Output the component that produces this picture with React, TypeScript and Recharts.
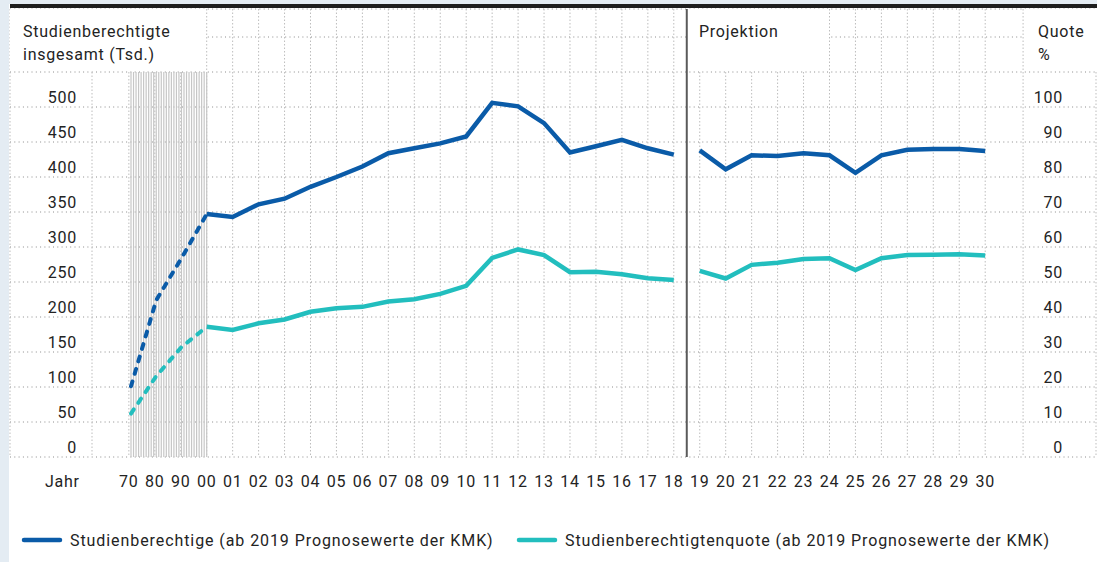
import React from 'react';
import { LineChart, Line, XAxis, YAxis, CartesianGrid, ReferenceLine } from 'recharts';

const FONT = 'Roboto, "Noto Sans", sans-serif';
const BLUE = '#0a5ba8';
const TEAL = '#22bebe';
const INK = '#232323';

// Historical (compressed 1970-2000 region, dashed)
const histYears = [1970, 1980, 1990, 2000];
const histStudienberechtigte = [101, 224, 284, 347];
const histQuote = [12.4, 23.1, 31.4, 37.2];

// Observed 2000-2018
const obsYears = [2000, 2001, 2002, 2003, 2004, 2005, 2006, 2007, 2008, 2009, 2010, 2011, 2012, 2013, 2014, 2015, 2016, 2017, 2018];
const obsStudienberechtigte = [347, 343, 361, 369, 386, 400, 415, 434, 441, 448, 458, 506, 501, 477, 435, 444, 453, 441, 432];
const obsQuote = [37.2, 36.3, 38.2, 39.3, 41.5, 42.5, 42.9, 44.4, 45.1, 46.6, 48.9, 56.9, 59.3, 57.7, 52.8, 52.9, 52.2, 51.1, 50.6];

// Projection 2019-2030 (KMK)
const projYears = [2019, 2020, 2021, 2022, 2023, 2024, 2025, 2026, 2027, 2028, 2029, 2030];
const projStudienberechtigte = [438, 411, 431, 430, 434, 431, 406, 431, 439, 440, 440, 437];
const projQuote = [53.2, 51.0, 54.9, 55.5, 56.6, 56.8, 53.4, 56.8, 57.7, 57.8, 57.9, 57.6];

// Ticks
const leftTicks = [0, 50, 100, 150, 200, 250, 300, 350, 400, 450, 500, 550, 600];
const leftTickLabels = ['0', '50', '100', '150', '200', '250', '300', '350', '400', '450', '500', '', ''];
const rightTicks = [0, 10, 20, 30, 40, 50, 60, 70, 80, 90, 100];
const rightTickLabels = ['0', '10', '20', '30', '40', '50', '60', '70', '80', '90', '100'];
const xTickLabels = ['70', '80', '90', '00', '01', '02', '03', '04', '05', '06', '07', '08', '09', '10', '11', '12', '13', '14', '15', '16', '17', '18', '19', '20', '21', '22', '23', '24', '25', '26', '27', '28', '29', '30'];
const extraGridX = [-1.42, 34.46];

// axis transform: 1970-2000 compressed into 3 slots, then one slot per year
const HATCH_START = 0.083;
const HATCH_END = 3;
const pos = (year: number) =>
  year < 2000 ? HATCH_START + ((year - 1970) / 30) * (HATCH_END - HATCH_START) : 3 + (year - 2000);

const hatchYears: number[] = [];
for (let y = 1970; y <= 2000; y++) hatchYears.push(y);

type Row = { x: number; [k: string]: number | null };
const rowMap = new Map<number, Row>();
const keys = ['studHist', 'quoteHist', 'stud', 'quote', 'studProj', 'quoteProj'];
function put(year: number, key: string, value: number) {
  const x = pos(year);
  let r = rowMap.get(x);
  if (!r) {
    r = { x };
    keys.forEach((k) => (r![k] = null));
    rowMap.set(x, r);
  }
  r[key] = value;
}
histYears.forEach((y, i) => { put(y, 'studHist', histStudienberechtigte[i]); put(y, 'quoteHist', histQuote[i]); });
obsYears.forEach((y, i) => { put(y, 'stud', obsStudienberechtigte[i]); put(y, 'quote', obsQuote[i]); });
projYears.forEach((y, i) => { put(y, 'studProj', projStudienberechtigte[i]); put(y, 'quoteProj', projQuote[i]); });
const data = Array.from(rowMap.values()).sort((a, b) => a.x - b.x);

const xTicks = [extraGridX[0], ...xTickLabels.map((_, i) => i), extraGridX[1]];

const textProps = { fontFamily: FONT, fontSize: 16, letterSpacing: 0.75, fill: INK };
const legendTextProps = { ...textProps, letterSpacing: 0.92 };

const LeftTick = (props: any) => {
  const { y, payload } = props;
  const i = leftTicks.indexOf(payload.value);
  const label = i >= 0 ? leftTickLabels[i] : '';
  return <text x={77} y={y - 4} textAnchor="end" {...textProps}>{label}</text>;
};
const RightTick = (props: any) => {
  const { y, payload } = props;
  const i = rightTicks.indexOf(payload.value);
  const label = i >= 0 ? rightTickLabels[i] : '';
  return <text x={1063} y={y - 4} textAnchor="end" {...textProps}>{label}</text>;
};
const XTick = (props: any) => {
  const { x, y, payload } = props;
  const v = payload.value;
  const idx = Math.round(v);
  const label = Math.abs(v - idx) < 1e-6 && idx >= 0 && idx < xTickLabels.length ? xTickLabels[idx] : '';
  return <text x={x} y={y + 30} textAnchor="middle" {...textProps}>{label}</text>;
};

export default function App() {
  return (
    <div style={{ position: 'absolute', left: 0, top: 0, width: 1097, height: 562, background: '#e4ecf3', overflow: 'hidden' }}>
      <div style={{ position: 'absolute', left: 9, top: 4, width: 1088, height: 558, background: '#fff' }} />
      <div style={{ position: 'absolute', left: 10, top: 4, width: 1087, height: 4, background: '#1e1e1e' }} />
      <div style={{ position: 'absolute', left: 0, top: 0 }}>
        <LineChart width={1097} height={562} data={data} margin={{ top: 9, right: 0, left: 0, bottom: 75 }}>
          <CartesianGrid yAxisId="left" vertical={false} stroke="#8c8c8c" strokeDasharray="1 3.3" />
          <CartesianGrid yAxisId="left" horizontal={false} stroke="#bdbdbd" strokeDasharray="1.5 2" />
          <XAxis
            type="number"
            dataKey="x"
            domain={[-4.58, 37.27]}
            allowDataOverflow
            ticks={xTicks}
            interval={0}
            axisLine={false}
            tickLine={false}
            tickSize={0}
            tickMargin={0}
            height={30}
            tick={XTick}
          />
          <YAxis yAxisId="left" domain={[0, 640]} ticks={leftTicks} interval={0} allowDataOverflow width={10} axisLine={false} tickLine={false} tick={LeftTick} />
          <YAxis yAxisId="right" orientation="right" domain={[0, 128]} ticks={rightTicks} interval={0} allowDataOverflow width={1} axisLine={false} tickLine={false} tick={RightTick} />
          {hatchYears.map((y) => (
            <ReferenceLine
              key={y}
              yAxisId="left"
              segment={[{ x: pos(y), y: 0 }, { x: pos(y), y: 550 }]}
              stroke="#c6c6c6"
              strokeWidth={1.2}
            />
          ))}
          <ReferenceLine yAxisId="left" x={21.5} stroke="#5a5a5a" strokeWidth={2} />
          <Line yAxisId="left" dataKey="studHist" stroke={BLUE} strokeWidth={4} strokeDasharray="5 8" strokeLinecap="round" dot={false} isAnimationActive={false} />
          <Line yAxisId="right" dataKey="quoteHist" stroke={TEAL} strokeWidth={4} strokeDasharray="5 8" strokeLinecap="round" dot={false} isAnimationActive={false} />
          <Line yAxisId="left" dataKey="stud" stroke={BLUE} strokeWidth={4.5} dot={false} isAnimationActive={false} />
          <Line yAxisId="right" dataKey="quote" stroke={TEAL} strokeWidth={4.5} dot={false} isAnimationActive={false} />
          <Line yAxisId="left" dataKey="studProj" stroke={BLUE} strokeWidth={4.5} dot={false} isAnimationActive={false} />
          <Line yAxisId="right" dataKey="quoteProj" stroke={TEAL} strokeWidth={4.5} dot={false} isAnimationActive={false} />
        </LineChart>
      </div>
      <svg width={1097} height={562} style={{ position: 'absolute', left: 0, top: 0, pointerEvents: 'none' }}>
        <rect x={10} y={9} width={196} height={62} fill="#fff" />
        <rect x={688} y={9} width={140.5} height={62} fill="#fff" />
        <rect x={1024} y={9} width={73} height={62} fill="#fff" />
        <text x={23} y={37} {...textProps}>Studienberechtigte</text>
        <text x={23} y={60} {...textProps}>insgesamt (Tsd.)</text>
        <text x={699} y={37} {...textProps}>Projektion</text>
        <text x={1038} y={37} {...textProps}>Quote</text>
        <text x={1038} y={60} {...textProps}>%</text>
        <text x={45} y={487} {...textProps}>Jahr</text>
        <line x1={24} x2={60} y1={540} y2={540} stroke={BLUE} strokeWidth={4.5} strokeLinecap="round" />
        <text x={70} y={546} {...legendTextProps}>Studienberechtige (ab 2019 Prognosewerte der KMK)</text>
        <line x1={519} x2={555} y1={540} y2={540} stroke={TEAL} strokeWidth={4.5} strokeLinecap="round" />
        <text x={565} y={546} {...legendTextProps}>Studienberechtigtenquote (ab 2019 Prognosewerte der KMK)</text>
      </svg>
    </div>
  );
}
